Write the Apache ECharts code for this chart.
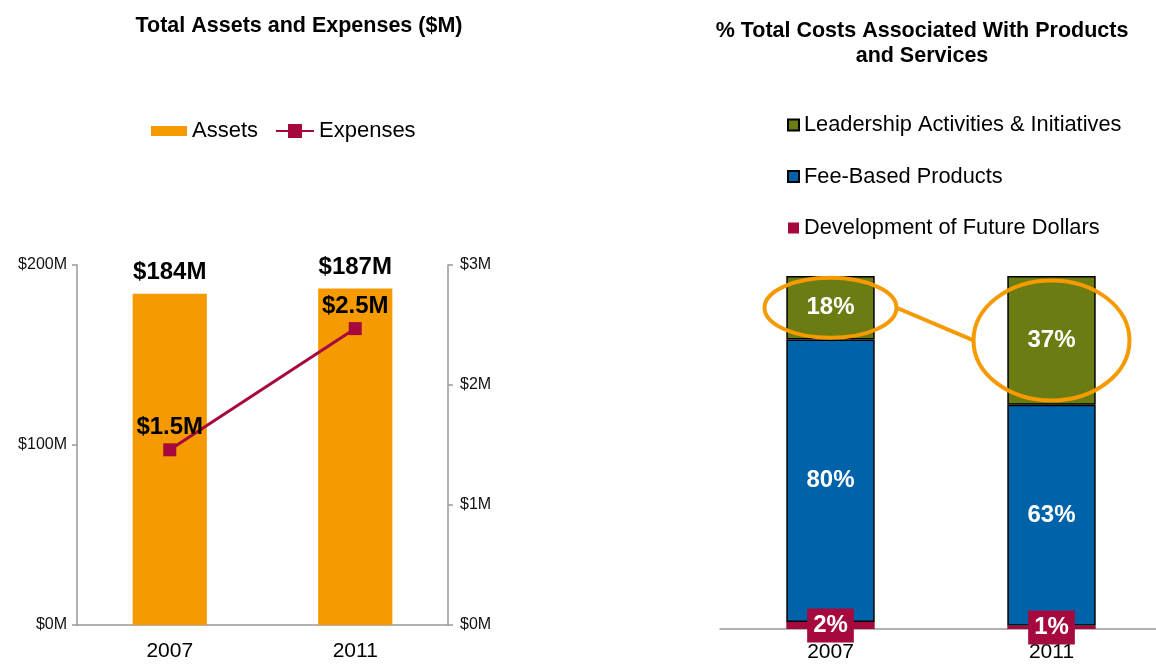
<!DOCTYPE html>
<html>
<head>
<meta charset="utf-8">
<script src="https://cdn.jsdelivr.net/npm/echarts@6/dist/echarts.min.js"></script>
<style>
  html, body { margin: 0; padding: 0; background: #fff; }
  #main { width: 1156px; height: 665px; }
</style>
</head>
<body>
<div id="main"></div>
<script>
// data
const years = ['2007', '2011']
const assets = [184, 187]
const assetLabels = ['$184M', '$187M']
const expenses = [1.46, 2.47]
const expenseLabels = ['$1.5M', '$2.5M']

const futureDollars = [2, 0.9]
const feeBased = [80, 62.6]
const leadership = [18, 36.5]

const FONT = "'Liberation Sans', Arial, sans-serif"
const ORANGE = '#F59A00'
const CRIMSON = '#A6093D'
const GREEN = '#6B7C12'
const BLUE = '#0063AA'
const AXIS = '#999'

let chart = echarts.init(document.getElementById('main'))

const pct = (p) => Math.round(p.value) + '%'
const legendText = { fontFamily: FONT, fontSize: 22, color: '#000' }

const option = {
  animation: false,
  textStyle: { fontFamily: FONT },
  title: [
    {
      text: 'Total Assets and Expenses ($M)',
      left: 294, top: 9, textAlign: 'center',
      textStyle: { fontFamily: FONT, fontSize: 21.5, fontWeight: 'bold', color: '#000', lineHeight: 25 }
    },
    {
      text: '% Total Costs Associated With Products\nand Services',
      left: 917, top: 14, textAlign: 'center',
      textStyle: { fontFamily: FONT, fontSize: 21.5, fontWeight: 'bold', color: '#000', lineHeight: 25 }
    }
  ],
  legend: [
    {
      data: ['Assets'], icon: 'rect',
      left: 146, top: 115,
      itemWidth: 36, itemHeight: 10,
      textStyle: legendText
    },
    {
      data: ['Expenses'],
      left: 270, top: 115,
      itemWidth: 38, itemHeight: 17.5,
      textStyle: legendText
    },
    {
      data: ['Leadership Activities & Initiatives', 'Fee-Based Products', 'Development of Future Dollars'],
      orient: 'vertical', icon: 'rect',
      left: 782, top: 109,
      itemWidth: 11, itemHeight: 11, itemGap: 29.5,
      textStyle: { fontFamily: FONT, fontSize: 21.8, color: '#000' }
    }
  ],
  grid: [
    { left: 77, top: 265, width: 371, height: 360, outerBoundsMode: 'none' },
    { left: 720, top: 276, width: 442, height: 353, outerBoundsMode: 'none' }
  ],
  xAxis: [
    {
      type: 'category', gridIndex: 0, data: years,
      axisLine: { lineStyle: { color: AXIS, width: 1.5 } },
      axisTick: { lineStyle: { color: AXIS, width: 1.5 }, length: 5 },
      axisLabel: { fontFamily: FONT, fontSize: 21, color: '#000', margin: 16 }
    },
    {
      type: 'category', gridIndex: 1, data: years,
      axisLine: { lineStyle: { color: AXIS, width: 1.5 } },
      axisTick: { lineStyle: { color: AXIS, width: 1.5 }, length: 5 },
      axisLabel: { fontFamily: FONT, fontSize: 21, color: '#000', margin: 13 }
    }
  ],
  yAxis: [
    {
      type: 'value', gridIndex: 0, min: 0, max: 200, interval: 100,
      axisLine: { show: true, lineStyle: { color: AXIS, width: 1.5 } },
      axisTick: { show: true, lineStyle: { color: AXIS, width: 1.5 }, length: 5 },
      splitLine: { show: false },
      axisLabel: { fontFamily: FONT, fontSize: 16, color: '#111', margin: 10, formatter: (v) => '$' + v + 'M' }
    },
    {
      type: 'value', gridIndex: 0, position: 'right', min: 0, max: 3, interval: 1,
      axisLine: { show: true, lineStyle: { color: AXIS, width: 1.5 } },
      axisTick: { show: true, lineStyle: { color: AXIS, width: 1.5 }, length: 5 },
      splitLine: { show: false },
      axisLabel: { fontFamily: FONT, fontSize: 16, color: '#111', margin: 12, formatter: (v) => '$' + v + 'M' }
    },
    { type: 'value', gridIndex: 1, min: 0, max: 100, show: false }
  ],
  series: [
    {
      name: 'Assets', type: 'bar', xAxisIndex: 0, yAxisIndex: 0,
      data: assets, barWidth: '40%',
      itemStyle: { color: ORANGE },
      label: {
        show: true, position: 'top', distance: 9,
        fontFamily: FONT, fontSize: 24, fontWeight: 'bold', color: '#000',
        formatter: (p) => assetLabels[p.dataIndex]
      }
    },
    {
      name: 'Expenses', type: 'line', xAxisIndex: 0, yAxisIndex: 1,
      data: expenses, symbol: 'rect', symbolSize: 13,
      itemStyle: { color: CRIMSON },
      lineStyle: { color: CRIMSON, width: 3 },
      label: {
        show: true, position: 'top', distance: 4,
        fontFamily: FONT, fontSize: 24, fontWeight: 'bold', color: '#000',
        formatter: (p) => expenseLabels[p.dataIndex]
      }
    },
    {
      name: 'Development of Future Dollars', type: 'bar', stack: 'cost',
      xAxisIndex: 1, yAxisIndex: 2, data: futureDollars, barWidth: '40%', z: 4,
      itemStyle: { color: CRIMSON },
      label: {
        show: true, position: 'inside',
        fontFamily: FONT, fontSize: 24, fontWeight: 'bold', color: '#fff',
        backgroundColor: CRIMSON, padding: [6, 6, 4, 6],
        formatter: pct
      }
    },
    {
      name: 'Fee-Based Products', type: 'bar', stack: 'cost',
      xAxisIndex: 1, yAxisIndex: 2, data: feeBased, barWidth: '40%',
      itemStyle: { color: BLUE, borderColor: '#000', borderWidth: 1.5 },
      label: {
        show: true, position: 'inside',
        fontFamily: FONT, fontSize: 24, fontWeight: 'bold', color: '#fff',
        formatter: pct
      }
    },
    {
      name: 'Leadership Activities & Initiatives', type: 'bar', stack: 'cost',
      xAxisIndex: 1, yAxisIndex: 2, data: leadership, barWidth: '40%',
      itemStyle: { color: GREEN, borderColor: '#000', borderWidth: 1.5 },
      label: {
        show: true, position: 'inside',
        fontFamily: FONT, fontSize: 24, fontWeight: 'bold', color: '#fff',
        formatter: pct
      }
    }
  ]
}

chart.setOption(option)

// orange call-out rings around the leadership segments, placed from the data
function ringCentre(i) {
  const mid = futureDollars[i] + feeBased[i] + leadership[i] / 2
  return chart.convertToPixel({ gridIndex: 1 }, [years[i], mid])
}
const c0 = ringCentre(0)
const c1 = ringCentre(1)
const r0 = { rx: 66, ry: 30 }
const r1 = { rx: 78, ry: 60 }
const ringStyle = { stroke: ORANGE, lineWidth: 4, fill: null }

chart.setOption({
  graphic: [
    { type: 'ellipse', z: 100, shape: { cx: c0[0], cy: c0[1], rx: r0.rx, ry: r0.ry }, style: ringStyle },
    { type: 'ellipse', z: 100, shape: { cx: c1[0], cy: c1[1], rx: r1.rx, ry: r1.ry }, style: ringStyle },
    {
      type: 'line', z: 100,
      shape: { x1: c0[0] + r0.rx, y1: c0[1], x2: c1[0] - r1.rx, y2: c1[1] },
      style: { stroke: ORANGE, lineWidth: 4 }
    }
  ]
})
</script>
</body>
</html>
